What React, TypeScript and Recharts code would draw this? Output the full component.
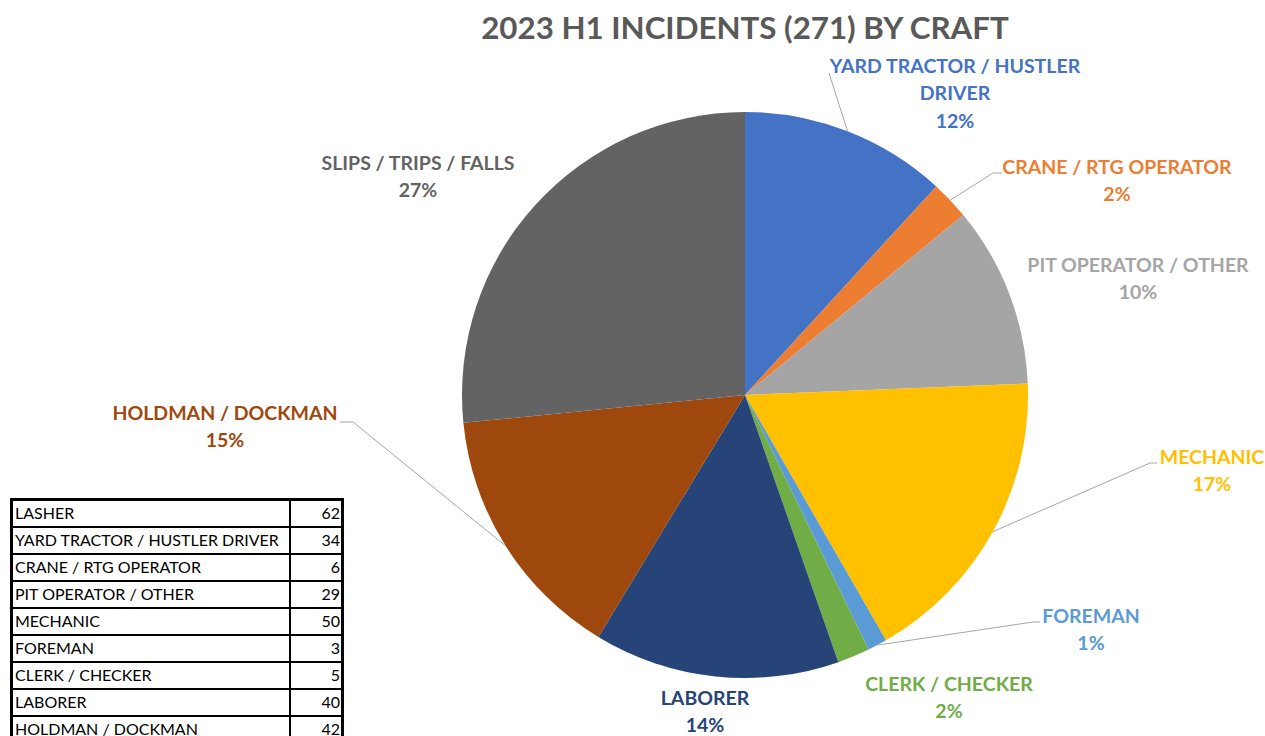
import { PieChart, Pie, Cell } from 'recharts';

// Pie slices, clockwise from 12 o'clock
const crafts = [
  'YARD TRACTOR / HUSTLER DRIVER',
  'CRANE / RTG OPERATOR',
  'PIT OPERATOR / OTHER',
  'MECHANIC',
  'FOREMAN',
  'CLERK / CHECKER',
  'LABORER',
  'HOLDMAN / DOCKMAN',
  'SLIPS / TRIPS / FALLS',
];
const incidents = [32, 6, 28, 47, 3, 5, 38, 40, 72];
const sliceColors = ['#4472C4', '#ED7D31', '#A5A5A5', '#FFC000', '#5B9BD5', '#70AD47', '#264478', '#9E480E', '#636363'];
const labelLines = [
  ['YARD TRACTOR / HUSTLER', 'DRIVER'],
  ['CRANE / RTG OPERATOR'],
  ['PIT OPERATOR / OTHER'],
  ['MECHANIC'],
  ['FOREMAN'],
  ['CLERK / CHECKER'],
  ['LABORER'],
  ['HOLDMAN / DOCKMAN'],
  ['SLIPS / TRIPS / FALLS'],
];

// side table
const tableCrafts = [
  'LASHER',
  'YARD TRACTOR / HUSTLER DRIVER',
  'CRANE / RTG OPERATOR',
  'PIT OPERATOR / OTHER',
  'MECHANIC',
  'FOREMAN',
  'CLERK / CHECKER',
  'LABORER',
  'HOLDMAN / DOCKMAN',
];
const tableCounts = [62, 34, 6, 29, 50, 3, 5, 40, 42];

const pieData = crafts.map((name, i) => ({ name, value: incidents[i] }));

// where Excel's labels were dragged to, relative to the pie centre
// (first-line centre, then optional leader elbow + end)
const labelSpots: { dx: number; dy: number; elbow?: [number, number]; end?: [number, number] }[] = [
  { dx: 210, dy: -330, end: [84, -322] },
  { dx: 372, dy: -229, elbow: [248, -222], end: [257, -222] },
  { dx: 393, dy: -131 },
  { dx: 467, dy: 61, elbow: [405, 68], end: [412, 68] },
  { dx: 346, dy: 220, elbow: [288, 227], end: [295, 227] },
  { dx: 204, dy: 288 },
  { dx: -40, dy: 302 },
  { dx: -520, dy: 17, elbow: [-392, 27], end: [-405, 27] },
  { dx: -327, dy: -233 },
];

const FONT = 'Lato, "Open Sans", sans-serif';
const RAD = Math.PI / 180;
const LINE_H = 27.5;

function SliceLabel(props: any) {
  const { cx, cy, midAngle, outerRadius, percent, index } = props;
  const spot = labelSpots[index];
  const color = sliceColors[index];
  const lines = [...labelLines[index], `${Math.round(percent * 100)}%`];
  const ex = cx + outerRadius * Math.cos(-midAngle * RAD);
  const ey = cy + outerRadius * Math.sin(-midAngle * RAD);
  let path = '';
  if (spot.end) {
    path = `M${ex},${ey}`;
    if (spot.elbow) path += ` L${cx + spot.elbow[0]},${cy + spot.elbow[1]}`;
    path += ` L${cx + spot.end[0]},${cy + spot.end[1]}`;
  }
  return (
    <g>
      {path && <path d={path} stroke="#A6A6A6" strokeWidth={1} fill="none" />}
      {lines.map((t, i) => (
        <text key={i} x={cx + spot.dx} y={cy + spot.dy + i * LINE_H} textAnchor="middle" dominantBaseline="central"
          fill={color} fontFamily={FONT} fontWeight={700} fontSize={19.5}>
          {t}
        </text>
      ))}
    </g>
  );
}

export default function App() {
  return (
    <div style={{ position: 'absolute', left: 0, top: 0, width: 1265, height: 736, overflow: 'hidden', background: '#fff' }}>
      <div style={{ position: 'absolute', left: 0, top: 8, width: 1490, textAlign: 'center', fontFamily: FONT, fontWeight: 700, fontSize: 31.3, color: '#595959' }}>
        2023 H1 INCIDENTS (271) BY CRAFT
      </div>
      <div style={{ position: 'absolute', left: 0, top: 0 }}>
        <PieChart width={1265} height={736} margin={{ top: 0, right: 0, bottom: 0, left: 0 }}>
          <Pie data={pieData} dataKey="value" nameKey="name" cx={745} cy={395} outerRadius={283}
            startAngle={90} endAngle={-270} stroke="none" isAnimationActive={false}
            label={SliceLabel} labelLine={false}>
            {pieData.map((d, i) => (
              <Cell key={d.name} fill={sliceColors[i]} />
            ))}
          </Pie>
        </PieChart>
      </div>
      <table style={{ position: 'absolute', left: 10, top: 498, width: 334, borderCollapse: 'collapse', border: '3px solid #000', fontFamily: FONT, fontSize: 16, color: '#000' }}>
        <tbody>
          {tableCrafts.map((c, i) => (
            <tr key={c} style={{ height: 27 }}>
              <td style={{ border: '2px solid #000', padding: '0 2px', lineHeight: '22px' }}>{c}</td>
              <td style={{ border: '2px solid #000', padding: '0 1px', width: 48, textAlign: 'right', lineHeight: '22px' }}>{tableCounts[i]}</td>
            </tr>
          ))}
        </tbody>
      </table>
    </div>
  );
}
